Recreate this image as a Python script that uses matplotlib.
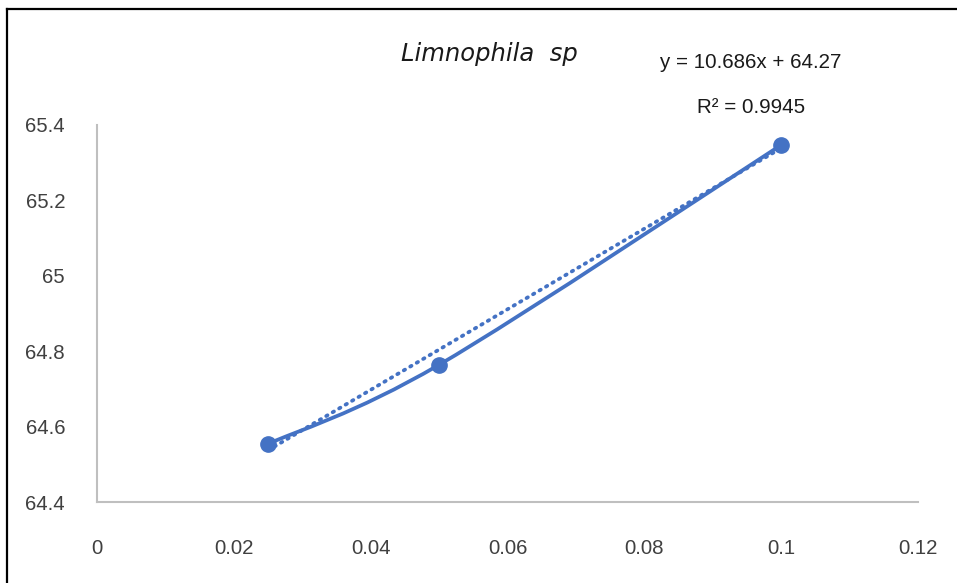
import numpy as np
import matplotlib.pyplot as plt
from matplotlib.path import Path
from matplotlib.patches import PathPatch
from matplotlib.lines import Line2D

# data
conc = [0.025, 0.05, 0.1]
values = [64.554, 64.764, 65.347]
slope, intercept = 10.686, 64.27
r2 = 0.9945
xticks = [0, 0.02, 0.04, 0.06, 0.08, 0.1, 0.12]
xticklabels = ['0', '0.02', '0.04', '0.06', '0.08', '0.1', '0.12']
yticks = [64.4, 64.6, 64.8, 65.0, 65.2, 65.4]
yticklabels = ['64.4', '64.6', '64.8', '65', '65.2', '65.4']

blue = '#4472C4'
plt.rcParams['font.family'] = ['Liberation Sans', 'DejaVu Sans']

fig = plt.figure(figsize=(9.57, 5.83), dpi=100)
ax = fig.add_axes([97 / 957, 1 - 502 / 583, (918 - 97) / 957, (502 - 125) / 583])

# smoothed line (Excel-style bezier through the points)
pts = np.column_stack([conc, values])
ext = np.vstack([pts[0], pts, pts[-1]])
verts = [tuple(pts[0])]
codes = [Path.MOVETO]
for i in range(len(pts) - 1):
    p0, p1, p2, p3 = ext[i], ext[i + 1], ext[i + 2], ext[i + 3]
    c1 = p1 + (p2 - p0) / 6
    c2 = p2 - (p3 - p1) / 6
    verts += [tuple(c1), tuple(c2), tuple(p2)]
    codes += [Path.CURVE4] * 3
ax.add_patch(PathPatch(Path(verts, codes), fill=False, edgecolor=blue,
                       lw=2.7, capstyle='round', zorder=3))

# linear trendline
tx = np.array([conc[0], conc[-1]])
ax.plot(tx, slope * tx + intercept, color=blue, lw=2.7, ls=(0, (0.4, 1.6)),
        dash_capstyle='round', zorder=2)
ax.plot(conc, values, 'o', color=blue, ms=11, zorder=4)

ax.set_xlim(0, 0.12)
ax.set_ylim(64.4, 65.4)
ax.set_xticks(xticks)
ax.set_xticklabels(xticklabels)
ax.set_yticks(yticks)
ax.set_yticklabels(yticklabels)
ax.tick_params(length=0, labelsize=14.7, colors='#404040')
ax.tick_params(axis='x', pad=27)
ax.tick_params(axis='y', pad=23)
for s in ['top', 'right']:
    ax.spines[s].set_visible(False)
for s in ['left', 'bottom']:
    ax.spines[s].set_color('#BFBFBF')
    ax.spines[s].set_linewidth(1.5)

fig.text(489 / 957, 1 - 61 / 583, 'Limnophila  sp', ha='center', va='baseline',
         fontsize=17.5, style='italic', family='DejaVu Sans', color='#1a1a1a')
fig.text(751 / 957, 1 - 68 / 583, 'y = %.3fx + %.2f' % (slope, intercept),
         ha='center', va='baseline', fontsize=14.8, color='#1a1a1a')
fig.text(751 / 957, 1 - 113 / 583, 'R² = %.4f' % r2,
         ha='center', va='baseline', fontsize=14.8, color='#1a1a1a')

# black frame lines at top and left
fig.add_artist(Line2D([7.5 / 957, 1], [1 - 9 / 583, 1 - 9 / 583],
                      transform=fig.transFigure, color='black', lw=1.6))
fig.add_artist(Line2D([7.5 / 957, 7.5 / 957], [0, 1 - 9 / 583],
                      transform=fig.transFigure, color='black', lw=1.6))

fig.savefig('out.png', dpi=100)
